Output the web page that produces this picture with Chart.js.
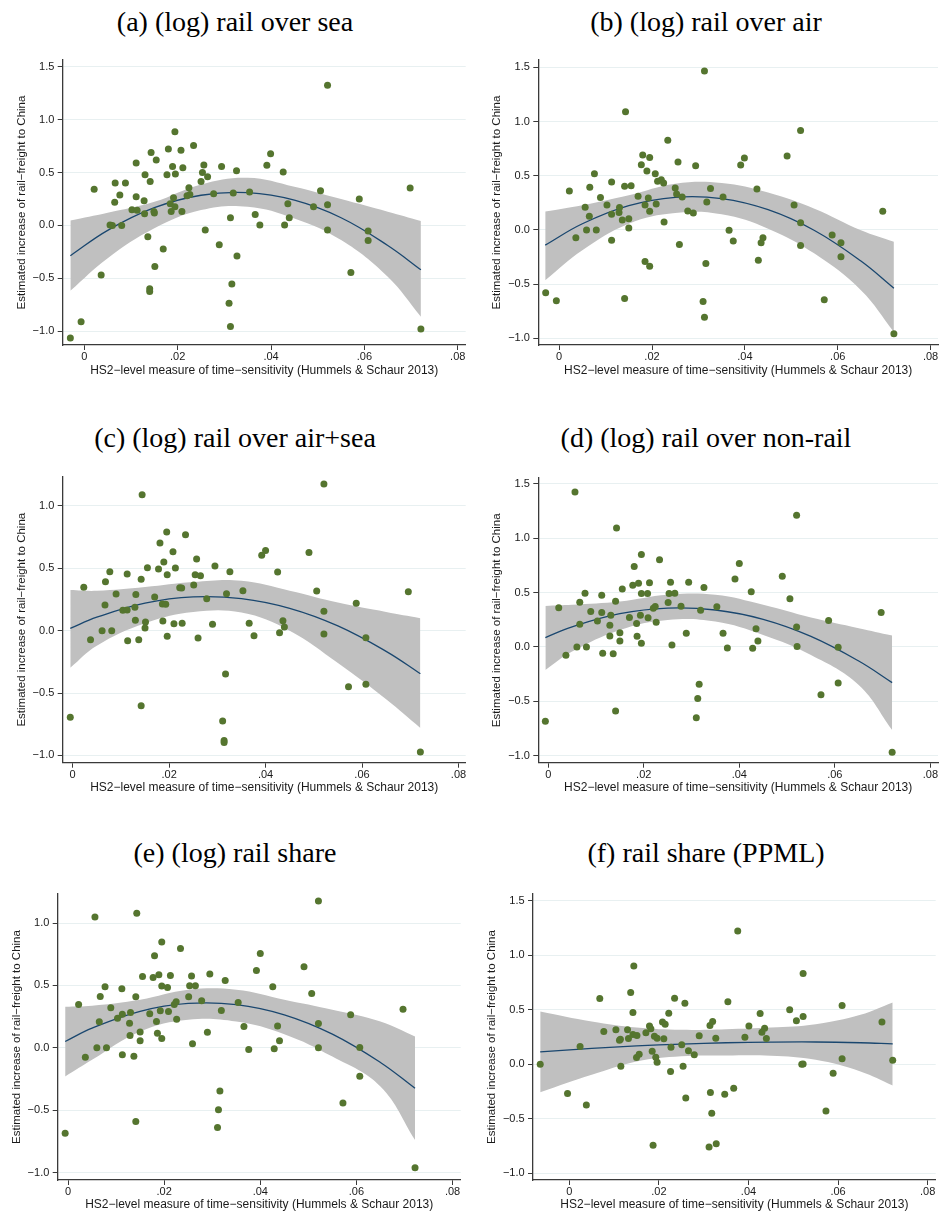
<!DOCTYPE html>
<html><head><meta charset="utf-8">
<script src="https://cdn.jsdelivr.net/npm/chart.js@4.4.1/dist/chart.umd.min.js"></script>
<style>
html,body{margin:0;padding:0;background:#fff;}
#wrap{position:relative;width:942px;height:1216px;overflow:hidden;background:#fff;}
canvas{position:absolute;}
.ttl{position:absolute;width:460px;text-align:center;font-family:"Liberation Serif","DejaVu Serif",serif;font-size:28px;line-height:32px;color:#000;white-space:nowrap;}
</style></head>
<body><div id="wrap"></div>
<script>
// ---------- data ----------
const titles = ['(a) (log) rail over sea','(b) (log) rail over air','(c) (log) rail over air+sea','(d) (log) rail over non-rail','(e) (log) rail share','(f) rail share (PPML)'];
const xAxisTitle = 'HS2\u2212level measure of time\u2212sensitivity (Hummels & Schaur 2013)';
const yAxisTitle = 'Estimated increase of rail\u2212freight to China';
const xTickVals = [0,0.02,0.04,0.06,0.08];
const xTickLabels = ['0','.02','.04','.06','.08'];
const yTickVals15 = [-1,-0.5,0,0.5,1,1.5];
const yTickLabels15 = ['\u22121.0','\u22120.5','0.0','0.5','1.0','1.5'];
const yTickVals10 = [-1,-0.5,0,0.5,1];
const yTickLabels10 = ['\u22121.0','\u22120.5','0.0','0.5','1.0'];

// panel (a)
const aX = [-0.003,-0.0007,0.0021,0.0036,0.0055,0.006,0.0065,0.0066,0.0076,0.008,0.0088,0.0102,0.0111,0.0111,0.0113,0.0128,0.013,0.0129,0.0136,0.0141,0.0143,0.014,0.014,0.0149,0.015,0.0151,0.0154,0.0169,0.0177,0.018,0.0184,0.0186,0.0189,0.0191,0.0194,0.0195,0.0194,0.0207,0.0209,0.0211,0.022,0.0224,0.0226,0.0234,0.025,0.0253,0.0256,0.0259,0.0264,0.0277,0.0289,0.0294,0.031,0.0313,0.0313,0.0316,0.0319,0.0326,0.0327,0.0354,0.0366,0.0376,0.0391,0.0399,0.0426,0.0429,0.0436,0.0439,0.0491,0.0506,0.0521,0.0521,0.0521,0.0571,0.0589,0.0608,0.0608,0.0698,0.0721];
const aY = [-1.066,-0.912,0.341,-0.47,0.003,0,0.218,0.40,0.287,0,0.40,0.148,0.59,0.271,0.142,0.233,0.48,0.11,-0.107,0.416,0.69,-0.60,-0.625,0.132,0.117,-0.39,0.618,-0.224,0.48,0.722,0.205,0.132,0.558,0.262,0.886,0.486,0.177,0.71,0.132,0.546,0.28,0.356,0.293,0.757,0.416,0.50,0.571,-0.044,0.461,0.30,-0.183,0.558,-0.738,0.073,-0.956,-0.555,0.306,0.517,-0.29,0.315,0.104,0.003,0.568,0.678,0.505,0.003,0.205,0.073,0.177,0.328,1.325,0.196,-0.044,-0.445,0.249,-0.054,-0.142,0.353,-0.981];
const aFitX = [-0.003,0.005,0.015,0.025,0.035,0.045,0.055,0.065,0.0721];
const aFit = [-0.287,-0.047,0.167,0.285,0.309,0.238,0.072,-0.19,-0.42];
const aHi = [0.047,0.12,0.224,0.388,0.451,0.366,0.249,0.129,0.041];
const aLo = [-0.618,-0.31,-0.028,0.145,0.177,0.066,-0.139,-0.486,-0.865];

// panel (b)
const bX = [-0.0029,-0.0006,0.0022,0.0036,0.0056,0.0059,0.0065,0.0066,0.0076,0.008,0.0089,0.0103,0.0113,0.0113,0.0113,0.013,0.0129,0.0136,0.0141,0.0143,0.0141,0.015,0.015,0.0155,0.017,0.0177,0.018,0.0185,0.0185,0.0189,0.0192,0.0195,0.0195,0.0195,0.0207,0.0209,0.0212,0.022,0.0225,0.0226,0.0234,0.025,0.0253,0.0256,0.0259,0.0265,0.0277,0.0289,0.0294,0.031,0.0313,0.0313,0.0316,0.0318,0.0326,0.0353,0.0366,0.0375,0.0391,0.0399,0.0426,0.0429,0.0435,0.0439,0.0491,0.0506,0.052,0.052,0.052,0.0571,0.0588,0.0607,0.0607,0.0697,0.0721];
const bY = [-0.58,-0.653,0.359,-0.071,0.209,0,0.126,0.393,0.518,0,0.298,0.23,0.442,0.144,-0.095,0.206,0.16,0.092,0.402,1.089,-0.632,0.104,0.018,0.408,0.31,0.601,0.69,0.23,-0.291,0.543,0.294,0.669,0.172,-0.334,0.518,0.239,0.448,0.463,0.433,0.074,0.828,0.387,0.331,0.626,-0.135,0.304,0.175,0.156,0.592,-0.66,1.466,-0.804,-0.31,0.258,0.383,0.304,-0.003,-0.101,0.598,0.663,0.377,-0.279,-0.117,-0.071,0.681,0.23,0.917,0.067,-0.144,-0.644,-0.046,-0.117,-0.248,0.172,-0.957];
const bFitX = [-0.003,0.005,0.015,0.025,0.035,0.045,0.055,0.065,0.0721];
const bFit = [-0.14,0.057,0.224,0.301,0.289,0.187,-0.005,-0.287,-0.537];
const bHi = [0.169,0.227,0.319,0.426,0.433,0.345,0.196,-0.003,-0.11];
const bLo = [-0.463,-0.187,0.058,0.156,0.144,0.012,-0.218,-0.555,-0.94];

// panel (c)
const cX = [-0.0005,0.0023,0.0037,0.0061,0.0067,0.0068,0.0077,0.0081,0.009,0.0104,0.0113,0.0113,0.0114,0.0129,0.0131,0.013,0.0137,0.0142,0.0144,0.0142,0.0151,0.015,0.0155,0.017,0.0178,0.0181,0.0186,0.0187,0.0189,0.0193,0.0195,0.0196,0.0196,0.0208,0.021,0.0213,0.0222,0.0226,0.0227,0.0234,0.0251,0.0254,0.0257,0.026,0.0265,0.0278,0.029,0.0295,0.0311,0.0314,0.0314,0.0317,0.0319,0.0326,0.0353,0.0366,0.0376,0.0392,0.04,0.0425,0.0429,0.0436,0.0439,0.049,0.0506,0.0521,0.0521,0.0521,0.0572,0.0588,0.0608,0.0608,0.0696,0.0721];
const cY = [-0.695,0.348,-0.072,0,0.206,0.393,0.473,0,0.294,0.163,0.455,0.166,-0.08,0.187,0.291,0.083,-0.072,0.412,1.091,-0.602,0.07,0.021,0.505,0.27,0.495,0.703,0.214,0.078,0.551,0.211,0.791,0.449,-0.045,0.634,0.056,0.503,0.345,0.342,0.059,0.77,0.366,0.449,0.575,-0.059,0.441,0.257,0.051,0.519,-0.725,-0.88,-0.896,-0.348,0.297,0.473,0.321,0.059,-0.04,0.604,0.644,0.471,-0.016,0.08,0.029,0.628,0.318,1.176,0.155,-0.027,-0.449,0.219,-0.056,-0.43,0.313,-0.973];
const cFitX = [-0.0005,0.005,0.015,0.025,0.035,0.045,0.055,0.065,0.0721];
const cFit = [0.019,0.108,0.221,0.271,0.257,0.179,0.038,-0.166,-0.345];
const cHi = [0.326,0.32,0.35,0.39,0.40,0.32,0.225,0.15,0.10];
const cLo = [-0.297,-0.12,0.06,0.15,0.145,0.0,-0.26,-0.55,-0.78];

// panel (d)
const dX = [-0.0006,0.0022,0.0037,0.0056,0.006,0.0066,0.0066,0.0077,0.008,0.0089,0.0103,0.0112,0.0112,0.0114,0.0129,0.0131,0.0129,0.0136,0.0141,0.0143,0.0141,0.015,0.015,0.0155,0.017,0.0177,0.018,0.0185,0.0186,0.0189,0.0193,0.0195,0.0195,0.0195,0.0208,0.0209,0.0212,0.022,0.0224,0.0226,0.0233,0.0251,0.0253,0.0256,0.0259,0.0265,0.0278,0.0289,0.0294,0.031,0.0313,0.0316,0.0319,0.0326,0.0353,0.0366,0.0375,0.0391,0.04,0.0425,0.0428,0.0435,0.0439,0.049,0.0506,0.052,0.052,0.0521,0.0571,0.0587,0.0607,0.0607,0.0697,0.072];
const dY = [-0.684,0.359,-0.077,1.423,0,0.209,0.411,0.494,0,0.325,0.239,0.475,0.316,-0.058,0.199,0.291,0.101,-0.064,0.42,1.092,-0.589,0.129,0.055,0.531,0.27,0.567,0.739,0.215,0.098,0.586,0.291,0.85,0.491,0.034,0.491,0.267,0.589,0.356,0.371,0.227,0.801,0.408,0.491,0.595,0.018,0.494,0.374,0.126,0.595,-0.65,-0.475,-0.344,0.337,0.546,0.368,0.126,-0.009,0.623,0.767,0.506,-0.012,0.166,0.055,0.65,0.442,1.209,0.184,0.003,-0.439,0.242,-0.003,-0.331,0.316,-0.969];
const dFitX = [-0.0006,0.005,0.015,0.025,0.035,0.045,0.055,0.065,0.072];
const dFit = [0.086,0.184,0.305,0.357,0.339,0.253,0.096,-0.13,-0.328];
const dHi = [0.377,0.387,0.417,0.479,0.479,0.387,0.27,0.172,0.104];
const dLo = [-0.212,-0.043,0.156,0.248,0.233,0.11,-0.074,-0.35,-0.764];

// panel (e)
const eX = [-0.0006,0.0022,0.0036,0.0056,0.006,0.0065,0.0067,0.0077,0.008,0.0089,0.0103,0.0112,0.0113,0.0113,0.0128,0.013,0.0129,0.0137,0.0141,0.0143,0.0141,0.015,0.015,0.0155,0.017,0.0177,0.018,0.0184,0.0186,0.0189,0.0192,0.0195,0.0195,0.0195,0.0207,0.0209,0.0213,0.0221,0.0225,0.0226,0.0234,0.0251,0.0253,0.0257,0.0259,0.0265,0.0278,0.029,0.0295,0.0311,0.0313,0.0316,0.0319,0.0327,0.0354,0.0366,0.0376,0.0392,0.04,0.0426,0.0429,0.0436,0.044,0.0491,0.0507,0.0521,0.0521,0.0521,0.0572,0.0588,0.0607,0.0607,0.0697,0.0722];
const eY = [-0.684,0.348,-0.075,1.048,0,0.209,0.412,0.489,0,0.321,0.238,0.473,0.27,-0.056,0.198,0.283,0.099,-0.067,0.409,1.078,-0.591,0.128,0.056,0.572,0.273,0.564,0.738,0.211,0.118,0.586,0.297,0.848,0.495,0.075,0.484,0.291,0.58,0.348,0.369,0.23,0.797,0.409,0.497,0.575,0.032,0.497,0.377,0.126,0.591,-0.639,-0.497,-0.345,0.299,0.54,0.364,0.171,-0.013,0.62,0.757,0.489,-0.008,0.176,0.056,0.65,0.436,1.176,0.195,0,-0.441,0.265,0.003,-0.227,0.31,-0.96];
const eFitX = [-0.0006,0.005,0.015,0.025,0.035,0.045,0.055,0.065,0.0722];
const eFit = [0.051,0.158,0.293,0.356,0.347,0.265,0.11,-0.117,-0.324];
const eHi = [0.329,0.337,0.385,0.465,0.465,0.385,0.305,0.211,0.091];
const eLo = [-0.23,-0.096,0.131,0.225,0.211,0.11,-0.07,-0.31,-0.738];

// panel (f)
const fX = [-0.0065,-0.0004,0.0024,0.0038,0.0068,0.0077,0.0104,0.0112,0.0114,0.0115,0.013,0.0132,0.0137,0.0142,0.0144,0.0142,0.0151,0.015,0.0156,0.0171,0.0179,0.0182,0.0185,0.0187,0.019,0.0193,0.0196,0.0196,0.0208,0.0214,0.0211,0.0222,0.0226,0.0227,0.0235,0.0251,0.0254,0.0258,0.026,0.0266,0.0279,0.029,0.0312,0.0314,0.0315,0.0318,0.032,0.0327,0.0328,0.0347,0.0354,0.0367,0.0376,0.0392,0.0401,0.0426,0.043,0.0436,0.044,0.0492,0.0507,0.0519,0.0522,0.0522,0.0522,0.0573,0.0589,0.0609,0.0609,0.0698,0.0722];
const fY = [0,-0.27,0.163,-0.374,0.604,0.301,0.316,0.221,0.23,-0.018,0.316,0.236,0.66,0.475,0.902,0.273,0.264,0.061,0.092,0.288,0.35,0.325,0.12,-0.745,0.258,0.064,0.239,0.018,0.387,0.368,0.233,0.469,-0.067,0.156,0.607,0.178,-0.018,0.561,-0.31,0.123,0.086,0.261,-0.761,0.356,-0.261,-0.451,0.393,0.239,-0.73,-0.276,0.574,-0.221,1.224,0.248,0.35,0.466,0.294,0.331,0.236,0.5,0.399,0,0.003,0.834,0.439,-0.429,-0.083,0.54,0.049,0.387,0.037];
const fFitX = [-0.0065,0.005,0.015,0.025,0.035,0.045,0.055,0.065,0.0722];
const fFit = [0.113,0.145,0.168,0.185,0.197,0.203,0.204,0.197,0.187];
const fHi = [0.485,0.393,0.337,0.316,0.322,0.337,0.368,0.454,0.567];
const fLo = [-0.258,-0.098,0.025,0.074,0.08,0.077,0.04,-0.067,-0.196];

// ---------- layout (positions / styles) ----------
const panels = [
  {t:0, X:aX,Y:aY,FX:aFitX,F:aFit,LO:aLo,HI:aHi, yv:yTickVals15, yl:yTickLabels15, xr:[-0.00464,0.0817], yr:[-1.132,1.565],
   box:[0,50,470,340], yw:62.7, pr:4.3, pt:10, xh:45, ytx:21.7, xty:19.3, tc:[235,22]},
  {t:1, X:bX,Y:bY,FX:bFitX,F:bFit,LO:bLo,HI:bHi, yv:yTickVals15, yl:yTickLabels15, xr:[-0.00449,0.0816], yr:[-1.061,1.567],
   box:[470,50,472,340], yw:68.3, pr:1, pt:9.3, xh:45, ytx:26.7, xty:19.3, tc:[706,22]},
  {t:2, X:cX,Y:cY,FX:cFitX,F:cFit,LO:cLo,HI:cHi, yv:yTickVals10, yl:yTickLabels10, xr:[-0.00207,0.0815], yr:[-1.059,1.235],
   box:[0,465,470,340], yw:62.7, pr:4.3, pt:11.7, xh:42.3, ytx:21.7, xty:17.3, tc:[235,438]},
  {t:3, X:dX,Y:dY,FX:dFitX,F:dFit,LO:dLo,HI:dHi, yv:yTickVals15, yl:yTickLabels15, xr:[-0.00208,0.0816], yr:[-1.064,1.552],
   box:[470,465,472,340], yw:68.3, pr:1, pt:13, xh:42.3, ytx:26.7, xty:17.3, tc:[706,438]},
  {t:4, X:eX,Y:eY,FX:eFitX,F:eFit,LO:eLo,HI:eHi, yv:yTickVals10, yl:yTickLabels10, xr:[-0.00215,0.0817], yr:[-1.059,1.233],
   box:[0,875,470,341], yw:57.7, pr:9.3, pt:19, xh:36, ytx:16.7, xty:11, tc:[235,853]},
  {t:5, X:fX,Y:fY,FX:fFitX,F:fFit,LO:fLo,HI:fHi, yv:yTickVals15, yl:yTickLabels15, xr:[-0.00811,0.0818], yr:[-1.064,1.564],
   box:[470,875,472,341], yw:63, pr:6.3, pt:19, xh:36, ytx:21.7, xty:11, tc:[706,853]}
];

const wrap = document.getElementById('wrap');
const AXIS = '#3a3a3a', GRID = '#e8f0f1', TXT = '#1a1a1a';
const TICKFONT = {family:'"Liberation Sans", Arial, sans-serif', size:11};
const TITLEFONT_X = {family:'"Liberation Sans", Arial, sans-serif', size:12};
const TITLEFONT_Y = {family:'"Liberation Sans", Arial, sans-serif', size:11.5};

panels.forEach(p => {
  const t = document.createElement('div');
  t.className = 'ttl';
  t.textContent = titles[p.t];
  t.style.left = (p.tc[0] - 230) + 'px';
  t.style.top = (p.tc[1] - 16) + 'px';
  wrap.appendChild(t);

  const cv = document.createElement('canvas');
  const [L,T,W,H] = p.box;
  cv.width = W; cv.height = H;
  cv.style.left = L + 'px'; cv.style.top = T + 'px';
  cv.style.width = W + 'px'; cv.style.height = H + 'px';
  wrap.appendChild(cv);

  const pts = p.X.map((x,i) => ({x:x, y:p.Y[i]}));
  const fit = p.FX.map((x,i) => ({x:x, y:p.F[i]}));
  const lo = p.FX.map((x,i) => ({x:x, y:p.LO[i]}));
  const hi = p.FX.map((x,i) => ({x:x, y:p.HI[i]}));

  new Chart(cv, {
    type: 'scatter',
    data: { datasets: [
      {type:'line', data:lo, borderWidth:0, borderColor:'rgba(0,0,0,0)', pointRadius:0, tension:0.4, fill:false, order:4},
      {type:'line', data:hi, borderWidth:0, borderColor:'rgba(0,0,0,0)', backgroundColor:'#c0c0c0', pointRadius:0, tension:0.4, fill:'-1', order:3},
      {type:'line', data:fit, borderWidth:1.3, borderColor:'#1a476f', pointRadius:0, tension:0.4, fill:false, order:1},
      {type:'scatter', data:pts, pointRadius:3.5, pointBackgroundColor:'#55752f', pointBorderWidth:0, pointBorderColor:'#55752f', order:0}
    ]},
    options: {
      responsive:false, animation:false, devicePixelRatio:1,
      layout:{padding:{left:0, right:p.pr, top:p.pt, bottom:0}},
      plugins:{legend:{display:false}, tooltip:{enabled:false}},
      scales:{
        x:{type:'linear', min:p.xr[0], max:p.xr[1],
           afterBuildTicks: s => { s.ticks = xTickVals.map(v => ({value:v})); },
           afterFit: s => { s.height = p.xh; },
           ticks:{font:TICKFONT, color:TXT, padding:0.5, maxRotation:0, autoSkip:false,
                  callback: (v) => { const i = xTickVals.findIndex(q => Math.abs(q - v) < 1e-9); return i >= 0 ? xTickLabels[i] : ''; }},
           grid:{drawOnChartArea:false, drawTicks:true, tickLength:5, tickColor:AXIS, tickWidth:1},
           border:{display:true, color:AXIS, width:1.3},
           title:{display:true, text:xAxisTitle, font:TITLEFONT_X, color:TXT, padding:{top:0, bottom:p.xty - 7.2}}
        },
        y:{type:'linear', min:p.yr[0], max:p.yr[1],
           afterBuildTicks: s => { s.ticks = p.yv.map(v => ({value:v})); },
           afterFit: s => { s.width = p.yw; },
           ticks:{font:TICKFONT, color:TXT, padding:3.4, autoSkip:false,
                  callback: (v) => { const i = p.yv.findIndex(q => Math.abs(q - v) < 1e-9); return i >= 0 ? p.yl[i] : ''; }},
           grid:{drawOnChartArea:true, color:GRID, lineWidth:1, drawTicks:true, tickLength:5, tickColor:AXIS, tickWidth:1},
           border:{display:true, color:AXIS, width:1.3},
           title:{display:true, text:yAxisTitle, font:TITLEFONT_Y, color:TXT, padding:{top:p.ytx - 6.9, bottom:0}}
        }
      }
    }
  });
});
</script>
</body></html>
